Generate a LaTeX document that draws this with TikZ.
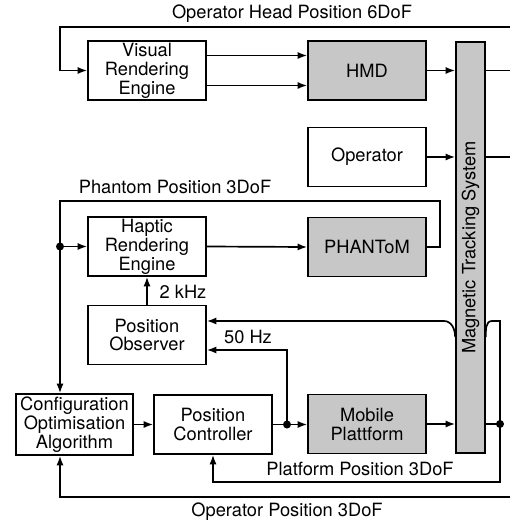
\documentclass[tikz,border=0pt]{standalone}
\usepackage{fontspec}
\setmainfont{TeX Gyre Heros}
\usetikzlibrary{arrows.meta}

\begin{document}
\begin{tikzpicture}[>={Latex[length=2.4mm,width=1.8mm]}, x=0.25mm, y=-0.25mm, line width=1.2pt,
    font=\fontsize{13}{13.5}\selectfont,
    block/.style={draw, minimum width=29.5mm, minimum height=14.75mm, align=center, inner sep=1pt},
    hw/.style={block, fill=black!22},
    dot/.style={circle, fill, inner sep=0pt, minimum size=2mm}]

    \useasboundingbox (0,0) rectangle (510,523);

    % Bloecke
    \node[block] (vis) at (147,70.5) {Visual\\Rendering\\Engine};
    \node[hw] (hmd) at (367,70.5) {HMD};
    \node[block] (op) at (367,157) {Operator};
    \node[block] (hap) at (147,246.5) {Haptic\\Rendering\\Engine};
    \node[hw] (phan) at (367,247) {PHANToM};
    \node[block] (obs) at (147,335) {Position\\Observer};
    \node[block, minimum width=29.25mm, minimum height=15.25mm] (cfg) at (74.5,424.5) {Configuration\\Optimisation\\Algorithm};
    \node[block] (ctl) at (213,424.5) {Position\\Controller};
    \node[hw] (mob) at (367,424) {Mobile\\Plattform};
    \node[hw, minimum width=7.25mm, minimum height=102.75mm, inner sep=0pt] (mts) at (470.5,247.5) {\rotatebox{90}{Magnetic Tracking System}};

    % Hilfspunkte
    \coordinate (lbus) at (60,300);
    \coordinate (rbus) at (500,300);
    \coordinate (headin) at (510,27);
    \coordinate (headout) at (510,70.5);
    \coordinate (opout) at (510,157);
    \coordinate (opin) at (510,497);
    \coordinate (phtop) at (440,201);
    \coordinate (fb) at (287,424.5);
    \coordinate (pfb) at (500,482);
    \coordinate (brr) at (492,321);
    \coordinate (brl) at (444,321);

    % Kopfposition
    \draw[->] (headin) -- (headin -| lbus) |- (vis.west);
    \draw[->] ([yshift=3.75mm]vis.east) -- ([yshift=3.75mm]hmd.west);
    \draw[->] ([yshift=-3.75mm]vis.east) -- ([yshift=-3.75mm]hmd.west);
    \draw[->] (hmd.east) -- (hmd.east -| mts.west);
    \draw (hmd.east -| mts.east) -- (headout);
    \node (headlbl) at (292,14) {Operator Head Position 6DoF};

    % Operator
    \draw[->] (op.east) -- (op.east -| mts.west);
    \draw (op.east -| mts.east) -- (opout);

    % Phantom
    \draw[->] (phan.east) -| (phtop) -- (phtop -| lbus) -- (lbus |- cfg.north);
    \draw[->] (lbus |- hap.west) -- (hap.west);
    \node[dot] (d1) at (lbus |- hap.west) {};
    \draw[->] (hap.east) -- (phan.west);
    \node (phlbl) at (175,187) {Phantom Position 3DoF};
    \draw[->] (obs.north) -- (hap.south);
    \node (khz) at (183,292) {2 kHz};

    % Plattform
    \draw[->] (cfg.east) -- (cfg.east -| ctl.west);
    \draw[->] (ctl.east) -- (ctl.east -| mob.west);
    \node[dot] (d2) at (fb) {};
    \draw[->] (fb) |- ([yshift=-3.75mm]obs.east);
    \node (hz) at (248,337) {50 Hz};
    \draw[->] (mob.east) -- (mob.east -| mts.west);
    \draw (mob.east -| mts.east) -- (mob.east -| rbus);
    \node[dot] (d3) at (mob.east -| rbus) {};
    \draw[->] (mob.east -| rbus) -- (pfb) -| (ctl.south);
    \node (pflbl) at (360,469) {Platform Position 3DoF};

    % Bruecke unter dem Tracking-System
    \draw (mob.east -| rbus) |- (brr) to[out=180, in=90] ([yshift=-4mm]brr -| mts.east);
    \draw[->] ([yshift=-4mm]brl -| mts.west) to[out=90, in=0] (brl) -- (brl -| obs.east);

    % Operatorposition
    \draw[->] (opin) -- (opin -| lbus) -- (lbus |- cfg.south);
    \node (oplbl) at (287,512) {Operator Position 3DoF};
\end{tikzpicture}
\end{document}
